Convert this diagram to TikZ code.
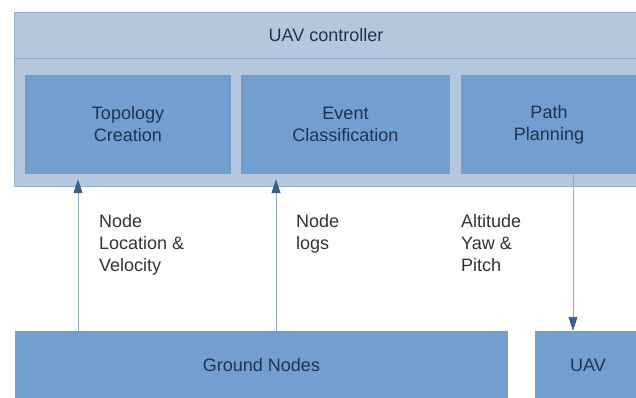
\documentclass[tikz,border=0pt]{standalone}
\usepackage{fontspec}
\setmainfont{Liberation Sans}
\usetikzlibrary{arrows.meta}

\definecolor{boxblue}{HTML}{729FCF}
\definecolor{ctrlblue}{HTML}{B4C7DC}
\definecolor{edgeblue}{HTML}{94ACCB}
\definecolor{tipblue}{HTML}{3A5F8F}
\definecolor{boxtext}{HTML}{1E3350}

\begin{document}
\begin{tikzpicture}[x = 1pt, y = -1pt,
                    every node/.style = {shape     = rectangle,
                                         fill      = boxblue,
                                         inner sep = 0pt,
                                         align     = center,
                                         text      = boxtext,
                                         font      = \fontsize{18}{22}\selectfont},
                    ctrl box/.style   = {fill       = ctrlblue,
                                         draw       = edgeblue,
                                         line width = 0.8pt},
                    label text/.style = {fill   = none,
                                         text   = black!80,
                                         align  = left,
                                         anchor = north west},
                    blue edge/.style  = {edgeblue,
                                         line width = 0.9pt,
                                         -{Triangle[length=14pt, width=9pt, color=tipblue]}}]

\useasboundingbox (0,0) rectangle (636,397);

% the controller
\node(0;0) [ctrl box, minimum width = 624pt, minimum height = 174pt] at (326,99) {};
\node(0;1) [ctrl box, minimum width = 624pt, minimum height = 46pt]  at (326,35) {UAV controller};
  \node(1;0) [minimum width = 206pt, minimum height = 99pt] at (128,124.5)   {Topology\\Creation};
  \node(1;1) [minimum width = 209pt, minimum height = 99pt] at (345.5,124.5) {Event\\Classification};
  \node(1;2) [minimum width = 176pt, minimum height = 99pt] at (549,124.5)   {Path\\Planning};

% the ground
\node(2;0) [minimum width = 493pt, minimum height = 68pt] at (261.5,365) {Ground Nodes};
\node(2;1) [minimum width = 106pt, minimum height = 68pt] at (588,365)   {UAV};

% labels
\node(l;0) [label text] at (99,214)  {Node\\Location \&\\Velocity};
\node(l;1) [label text] at (296,214) {Node\\logs};
\node(l;2) [label text] at (461,214) {Altitude\\Yaw \&\\Pitch};

% edges
\coordinate (x;0) at (78,0);
\coordinate (x;1) at (276,0);
\coordinate (x;2) at (573,0);
\foreach \j in {0,1}
  { \draw[blue edge, shorten >= 5pt] (2;0.north -| x;\j) -- (1;\j.south -| x;\j); }
\draw[blue edge] (1;2.south -| x;2) -- (2;1.north -| x;2);
\end{tikzpicture}
\end{document}
